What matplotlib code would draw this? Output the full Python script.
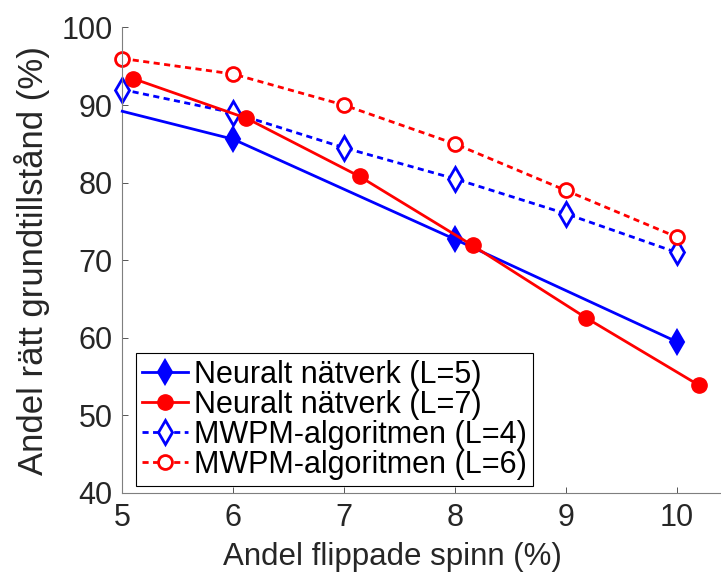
import matplotlib
matplotlib.use("Agg")
import matplotlib.pyplot as plt

plt.rcParams['font.family'] = ['Liberation Sans', 'DejaVu Sans']

# data
x_nn5 = [5, 6, 8, 10]
acc_nn5 = [89.2, 85.6, 72.7, 59.5]
x_nn7 = [5.1, 6.12, 7.14, 8.16, 9.18, 10.2]
acc_nn7 = [93.4, 88.3, 80.8, 71.9, 62.6, 53.9]
x_mwpm = [5, 6, 7, 8, 9, 10]
acc_mwpm4 = [92, 89, 84.5, 80.5, 76, 71]
acc_mwpm6 = [96, 94, 90, 85, 79, 73]

labels = ['Neuralt nätverk (L=5)', 'Neuralt nätverk (L=7)',
          'MWPM-algoritmen (L=4)', 'MWPM-algoritmen (L=6)']
x_ticks = [5, 6, 7, 8, 9, 10]
y_ticks = [40, 50, 60, 70, 80, 90, 100]

text_col = '#262626'
dash = (0, (2.2, 1.6))

fig = plt.figure(figsize=(7.21, 5.76), dpi=100)
ax = fig.add_axes([0.1696, 0.1441, 0.8304, 0.8082])

ax.plot(x_nn5, acc_nn5, color='blue', lw=2, marker='d', ms=12, mew=1.5,
        markevery=[1, 2, 3], label=labels[0], clip_on=False, zorder=3)
ax.plot(x_nn7, acc_nn7, color='red', lw=2, marker='o', ms=11, mew=1,
        label=labels[1], clip_on=False, zorder=3)
ax.plot(x_mwpm, acc_mwpm4, color='blue', lw=2, ls=dash, marker='d', ms=12,
        mew=2, mfc='white', label=labels[2], clip_on=False, zorder=2)
ax.plot(x_mwpm, acc_mwpm6, color='red', lw=2, ls=dash, marker='o', ms=10,
        mew=2, mfc='white', label=labels[3], clip_on=False, zorder=2)

ax.set_xlim(5, 10.4)
ax.set_ylim(40, 100)
ax.set_xticks(x_ticks)
ax.set_yticks(y_ticks)

for side in ['top', 'right']:
    ax.spines[side].set_visible(False)
for side in ['left', 'bottom']:
    ax.spines[side].set_color('#7f7f7f')
    ax.spines[side].set_linewidth(0.8)

ax.tick_params(direction='in', length=4, width=0.7, color='#555555',
               labelsize=22, labelcolor=text_col)
ax.tick_params(axis='x', pad=7)
ax.tick_params(axis='y', pad=7)

ax.set_xlabel('Andel flippade spinn (%)', fontsize=22.5, color=text_col)
ax.set_ylabel('Andel rätt grundtillstånd (%)', fontsize=25, color=text_col)
ax.xaxis.set_label_coords(0.452, -0.105)
ax.yaxis.set_label_coords(-0.121, 0.5)

leg = ax.legend(loc='lower left', bbox_to_anchor=(0.0224, 0.0157),
                borderaxespad=0, fontsize=22, handlelength=1.5,
                handletextpad=0.2, labelspacing=0, borderpad=0.2,
                fancybox=False, framealpha=1, edgecolor='black')
leg.get_frame().set_linewidth(0.8)

fig.savefig('out.png', dpi=100)
